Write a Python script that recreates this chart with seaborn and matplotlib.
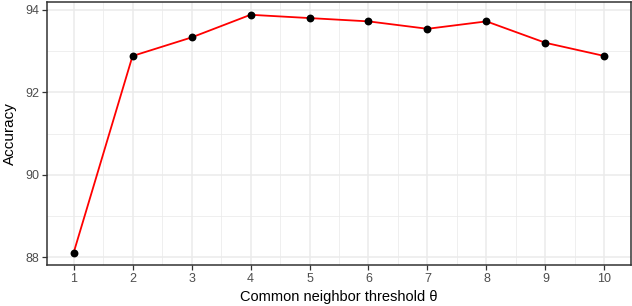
import numpy as np
import pandas as pd
import matplotlib
matplotlib.use("Agg")
import matplotlib.pyplot as plt
import seaborn as sns
from matplotlib.ticker import MultipleLocator

# data
thresholds = [1, 2, 3, 4, 5, 6, 7, 8, 9, 10]
accuracy = [88.1, 92.88, 93.33, 93.88, 93.8, 93.72, 93.54, 93.72, 93.2, 92.88]

df = pd.DataFrame({"theta": thresholds, "acc": accuracy})

sns.set_theme(style="white")
plt.rcParams["font.family"] = ["Liberation Sans", "DejaVu Sans"]

fig = plt.figure(figsize=(6.32, 3.06), dpi=100)
ax = fig.add_axes([47 / 632, 41 / 306, 584 / 632, 263 / 306])

sns.lineplot(data=df, x="theta", y="acc", color="#ff0000", linewidth=1.3, ax=ax, zorder=3)
sns.scatterplot(data=df, x="theta", y="acc", color="black", s=32, edgecolor="black",
                linewidth=0, ax=ax, zorder=4)

ax.set_xlim(0.55, 10.45)
ax.set_ylim(87.81, 94.19)
ax.set_xticks(thresholds)
ax.set_yticks([88, 90, 92, 94])
ax.xaxis.set_minor_locator(MultipleLocator(0.5))
ax.yaxis.set_minor_locator(MultipleLocator(1))

ax.grid(which="major", color="#ebebeb", linewidth=1.1, zorder=0)
ax.grid(which="minor", color="#ebebeb", linewidth=0.55, zorder=0)
ax.set_axisbelow(True)

for sp in ax.spines.values():
    sp.set_color("#333333")
    sp.set_linewidth(1.1)

ax.tick_params(axis="both", which="major", length=3.5, width=0.9, color="#333333",
               labelsize=9, labelcolor="#4d4d4d", pad=2, bottom=True, left=True)
ax.tick_params(axis="both", which="minor", length=0)

ax.set_xlabel("Common neighbor threshold θ", fontsize=10.5, color="black", labelpad=4)
ax.set_ylabel("Accuracy", fontsize=11, color="black", labelpad=6)

fig.savefig("out.png", dpi=100)
